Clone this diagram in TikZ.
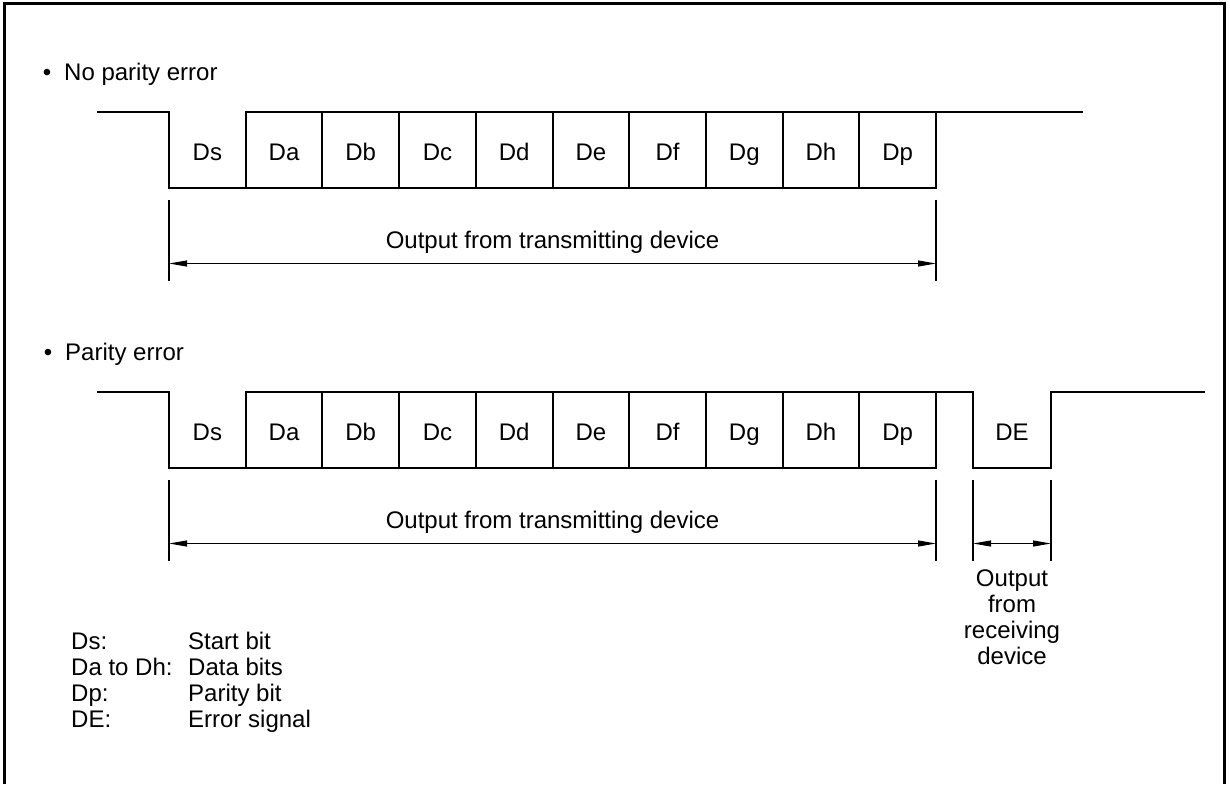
\documentclass[tikz,border=0pt]{standalone}
\usepackage{fontspec}
\setmainfont{Liberation Sans}
\usetikzlibrary{arrows.meta,positioning}

\tikzset{
  wave/.style={line width=2pt, line join=miter},
  bitcell/.style={minimum width=76.7pt, minimum height=76pt, inner sep=0pt, outer sep=0pt, text height=20pt, text depth=0pt},
  dimline/.style={line width=1.3pt},
  dimarrow/.style={line width=1pt, {Triangle[length=18pt,width=6pt]}-{Triangle[length=18pt,width=6pt]}},
  txt/.style={inner sep=0pt, anchor=base},
}

\begin{document}
\begin{tikzpicture}[x=1pt, y=-1pt, font=\fontsize{24}{26}\selectfont]
	\useasboundingbox (0,0) rectangle (1230,784);
	\draw[line width=3pt] (4,784) -- (4,4) -- (1224.5,4) -- (1224.5,784);

	% no parity error
	\node[txt] (dot1) at (47,80) {\textbullet};
	\node[txt, anchor=base west] (head1) at (64,80) {No parity error};

	\foreach \lab [count=\i] in {Ds,Da,Db,Dc,Dd,De,Df,Dg,Dh,Dp}
		\node[bitcell] (top\i) at ({169+76.7*(\i-0.5)},150) {\lab};
	\foreach \i in {2,...,10}
		\draw[wave] (top\i.north west) rectangle (top\i.south east);
	\coordinate (topstart) at (97,112);
	\coordinate (topend) at (1083,112);
	\draw[wave] (topstart) -- (top1.north west) -- (top1.south west) -- (top1.south east);
	\draw[wave] (top10.north east) -- (topend);

	\coordinate[below=11.5pt of top1.south west] (tl1a);
	\coordinate[below=92.5pt of top1.south west] (tl1b);
	\coordinate[below=11.5pt of top10.south east] (tl2a);
	\coordinate[below=92.5pt of top10.south east] (tl2b);
	\coordinate[below=75.5pt of top1.south west] (tarrL);
	\coordinate[below=75.5pt of top10.south east] (tarrR);
	\draw[dimline] (tl1a) -- (tl1b);
	\draw[dimline] (tl2a) -- (tl2b);
	\draw[dimarrow] (tarrL) -- (tarrR);
	\path (tarrL) -- (tarrR) node[midway, txt, yshift=15pt] (toplabel) {Output from transmitting device};

	% parity error
	\node[txt] (dot2) at (48,360) {\textbullet};
	\node[txt, anchor=base west] (head2) at (65,360) {Parity error};

	\foreach \lab [count=\i] in {Ds,Da,Db,Dc,Dd,De,Df,Dg,Dh,Dp}
		\node[bitcell] (bot\i) at ({169+76.7*(\i-0.5)},430) {\lab};
	\node[bitcell, minimum width=78pt] (boterr) at (1012,430) {DE};
	\foreach \i in {2,...,10}
		\draw[wave] (bot\i.north west) rectangle (bot\i.south east);
	\coordinate (botstart) at (97,392);
	\coordinate (botend) at (1205,392);
	\draw[wave] (botstart) -- (bot1.north west) -- (bot1.south west) -- (bot1.south east);
	\draw[wave] (bot10.north east) -- (boterr.north west) -- (boterr.south west)
		-- (boterr.south east) -- (boterr.north east) -- (botend);

	\coordinate[below=11.5pt of bot1.south west] (bl1a);
	\coordinate[below=92.5pt of bot1.south west] (bl1b);
	\coordinate[below=11.5pt of bot10.south east] (bl2a);
	\coordinate[below=92.5pt of bot10.south east] (bl2b);
	\coordinate[below=11.5pt of boterr.south west] (bl3a);
	\coordinate[below=92.5pt of boterr.south west] (bl3b);
	\coordinate[below=11.5pt of boterr.south east] (bl4a);
	\coordinate[below=92.5pt of boterr.south east] (bl4b);
	\coordinate[below=75.5pt of bot1.south west] (barrL);
	\coordinate[below=75.5pt of bot10.south east] (barrR);
	\coordinate[below=75.5pt of boterr.south west] (rarrL);
	\coordinate[below=75.5pt of boterr.south east] (rarrR);
	\foreach \t in {1,...,4}
		\draw[dimline] (bl\t a) -- (bl\t b);
	\draw[dimarrow] (barrL) -- (barrR);
	\draw[dimarrow] (rarrL) -- (rarrR);
	\path (barrL) -- (barrR) node[midway, txt, yshift=15pt] (botlabel) {Output from transmitting device};
	\node[align=center, inner sep=0pt, anchor=north] (rcvlabel) at (1012,570) {Output\\from\\receiving\\device};

	% legend
	\foreach \key/\val [count=\i] in {Ds:/Start bit, Da to Dh:/Data bits, Dp:/Parity bit, DE:/Error signal} {
		\node[txt, anchor=base west] (key\i) at (71,{649+26*(\i-1)}) {\key};
		\node[txt, anchor=base west] (val\i) at (188,{649+26*(\i-1)}) {\val};
	}
\end{tikzpicture}
\end{document}
